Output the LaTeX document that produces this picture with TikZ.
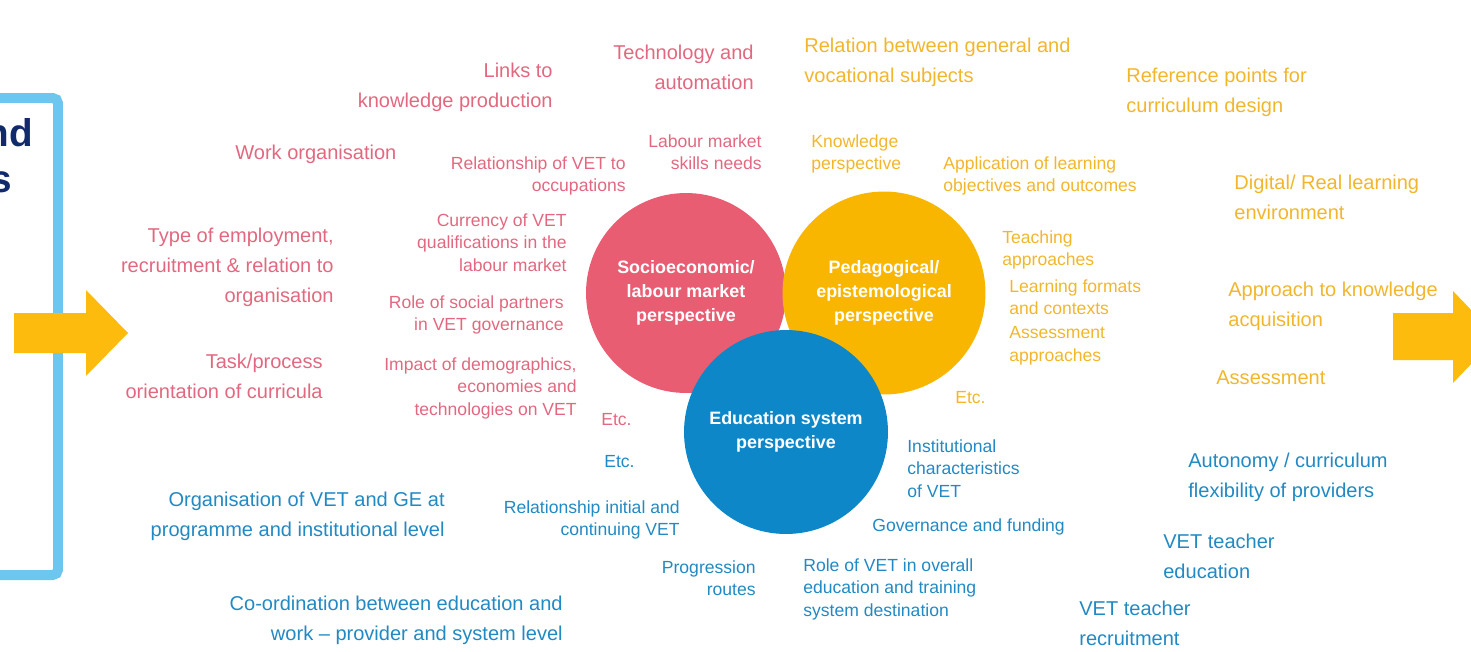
\documentclass[tikz,border=0pt]{standalone}
\usepackage{fontspec}
\setmainfont{Liberation Sans}
\definecolor{socio}{HTML}{E95D73}
\definecolor{peda}{HTML}{F8B600}
\definecolor{edu}{HTML}{0D87C7}
\definecolor{sociotxt}{HTML}{E2687F}
\definecolor{pedatxt}{HTML}{F2B62C}
\definecolor{edutxt}{HTML}{2189C3}
\definecolor{arrowyel}{HTML}{FDBB0E}
\definecolor{framebl}{HTML}{6DC6EE}
\definecolor{navy}{HTML}{102A6C}
\tikzset{
  persp/.style={circle, inner sep=0pt, align=center, text=white,
    font=\bfseries\fontsize{10.2}{13.5}\selectfont},
  bigtxt/.style={inner sep=0pt, font=\fontsize{11.4}{17}\selectfont},
  smalltxt/.style={inner sep=0pt, font=\fontsize{10}{13}\selectfont},
  socR/.style={text=sociotxt, anchor=north east, align=right},
  socL/.style={text=sociotxt, anchor=north west, align=left},
  pedL/.style={text=pedatxt, anchor=north west, align=left},
  eduR/.style={text=edutxt, anchor=north east, align=right},
  eduL/.style={text=edutxt, anchor=north west, align=left},
  bigarrow/.style={fill=arrowyel}
}
\begin{document}
\begin{tikzpicture}[x=0.02cm, y=-0.02cm]
  \useasboundingbox (0,0) rectangle (1471,652);
  \clip (0,0) rectangle (1471,652);

  \draw[framebl, line width=0.2cm, rounded corners=3pt] (-20,98) rectangle (58,575);
  \node[anchor=base east, inner sep=0pt, text=navy, font=\bfseries\fontsize{22}{26}\selectfont] (titlea) at (33,147) {nd};
  \node[anchor=base east, inner sep=0pt, text=navy, font=\bfseries\fontsize{22}{26}\selectfont] (titleb) at (12,193) {s};

  \fill[bigarrow] (14,313) -- (86,313) -- (86,290) -- (128,333) -- (86,376) -- (86,353) -- (14,353) -- cycle;
  \fill[bigarrow] (1393,313) -- (1453,313) -- (1453,291) -- (1497,337) -- (1453,383) -- (1453,360) -- (1393,360) -- cycle;

  \node[persp, fill=socio, minimum size=4cm] (socio) at (686,293) {Socioeconomic/\\labour market\\perspective};
  \node[persp, fill=peda, minimum size=4.06cm] (peda) at (884,293) {Pedagogical/\\epistemological\\perspective};
  \node[persp, fill=edu, minimum size=4.08cm] (edu) at (786,432) {Education system\\perspective};

  \node[bigtxt, socR] (links) at (553,63) {Links to\\knowledge production};
  \node[bigtxt, socR] (techno) at (754,45) {Technology and\\automation};
  \node[bigtxt, socL] (workorg) at (235,145) {Work organisation};
  \node[bigtxt, socR] (employ) at (334,228) {Type of employment,\\recruitment \& relation to\\organisation};
  \node[bigtxt, socR] (taskproc) at (323,354) {Task/process\\orientation of curricula};
  \node[smalltxt, socR] (occup) at (626,156) {Relationship of VET to\\occupations};
  \node[smalltxt, socR] (skills) at (762,134) {Labour market\\skills needs};
  \node[smalltxt, socR] (currency) at (567,213) {Currency of VET\\qualifications in the\\labour market};
  \node[smalltxt, socR] (partners) at (564,295) {Role of social partners\\in VET governance};
  \node[smalltxt, socR] (demogr) at (577,357) {Impact of demographics,\\economies and\\technologies on VET};
  \node[smalltxt, socL] (socetc) at (601,413) {Etc.};

  \node[bigtxt, pedL] (relation) at (804,38) {Relation between general and\\vocational subjects};
  \node[bigtxt, pedL] (refpoints) at (1126,68) {Reference points for\\curriculum design};
  \node[bigtxt, pedL] (digital) at (1234,175) {Digital/ Real learning\\environment};
  \node[bigtxt, pedL] (approach) at (1228,282) {Approach to knowledge\\acquisition};
  \node[bigtxt, pedL] (assess) at (1216,370) {Assessment};
  \node[smalltxt, pedL] (knowl) at (811,134) {Knowledge\\perspective};
  \node[smalltxt, pedL] (applic) at (943,156) {Application of learning\\objectives and outcomes};
  \node[smalltxt, pedL] (teaching) at (1002,230) {Teaching\\approaches};
  \node[smalltxt, pedL] (formats) at (1009,279) {Learning formats\\and contexts};
  \node[smalltxt, pedL] (assessapp) at (1009,326) {Assessment\\approaches};
  \node[smalltxt, pedL] (pedetc) at (955,391) {Etc.};

  \node[bigtxt, eduR] (orgvet) at (445,492) {Organisation of VET and GE at\\programme and institutional level};
  \node[bigtxt, eduR] (coord) at (563,596) {Co-ordination between education and\\work -- provider and system level};
  \node[bigtxt, eduL] (autonomy) at (1188,453) {Autonomy / curriculum\\flexibility of providers};
  \node[bigtxt, eduL] (teachedu) at (1163,534) {VET teacher\\education};
  \node[bigtxt, eduL] (teachrec) at (1079,601) {VET teacher\\recruitment};
  \node[smalltxt, eduL] (eduetc) at (604,455) {Etc.};
  \node[smalltxt, eduR] (initial) at (680,500) {Relationship initial and\\continuing VET};
  \node[smalltxt, eduL] (instit) at (907,439) {Institutional\\characteristics\\of VET};
  \node[smalltxt, eduL] (govern) at (872,518) {Governance and funding};
  \node[smalltxt, eduR] (progr) at (756,560) {Progression\\routes};
  \node[smalltxt, eduL] (rolevet) at (803,558) {Role of VET in overall\\education and training\\system destination};
\end{tikzpicture}
\end{document}
